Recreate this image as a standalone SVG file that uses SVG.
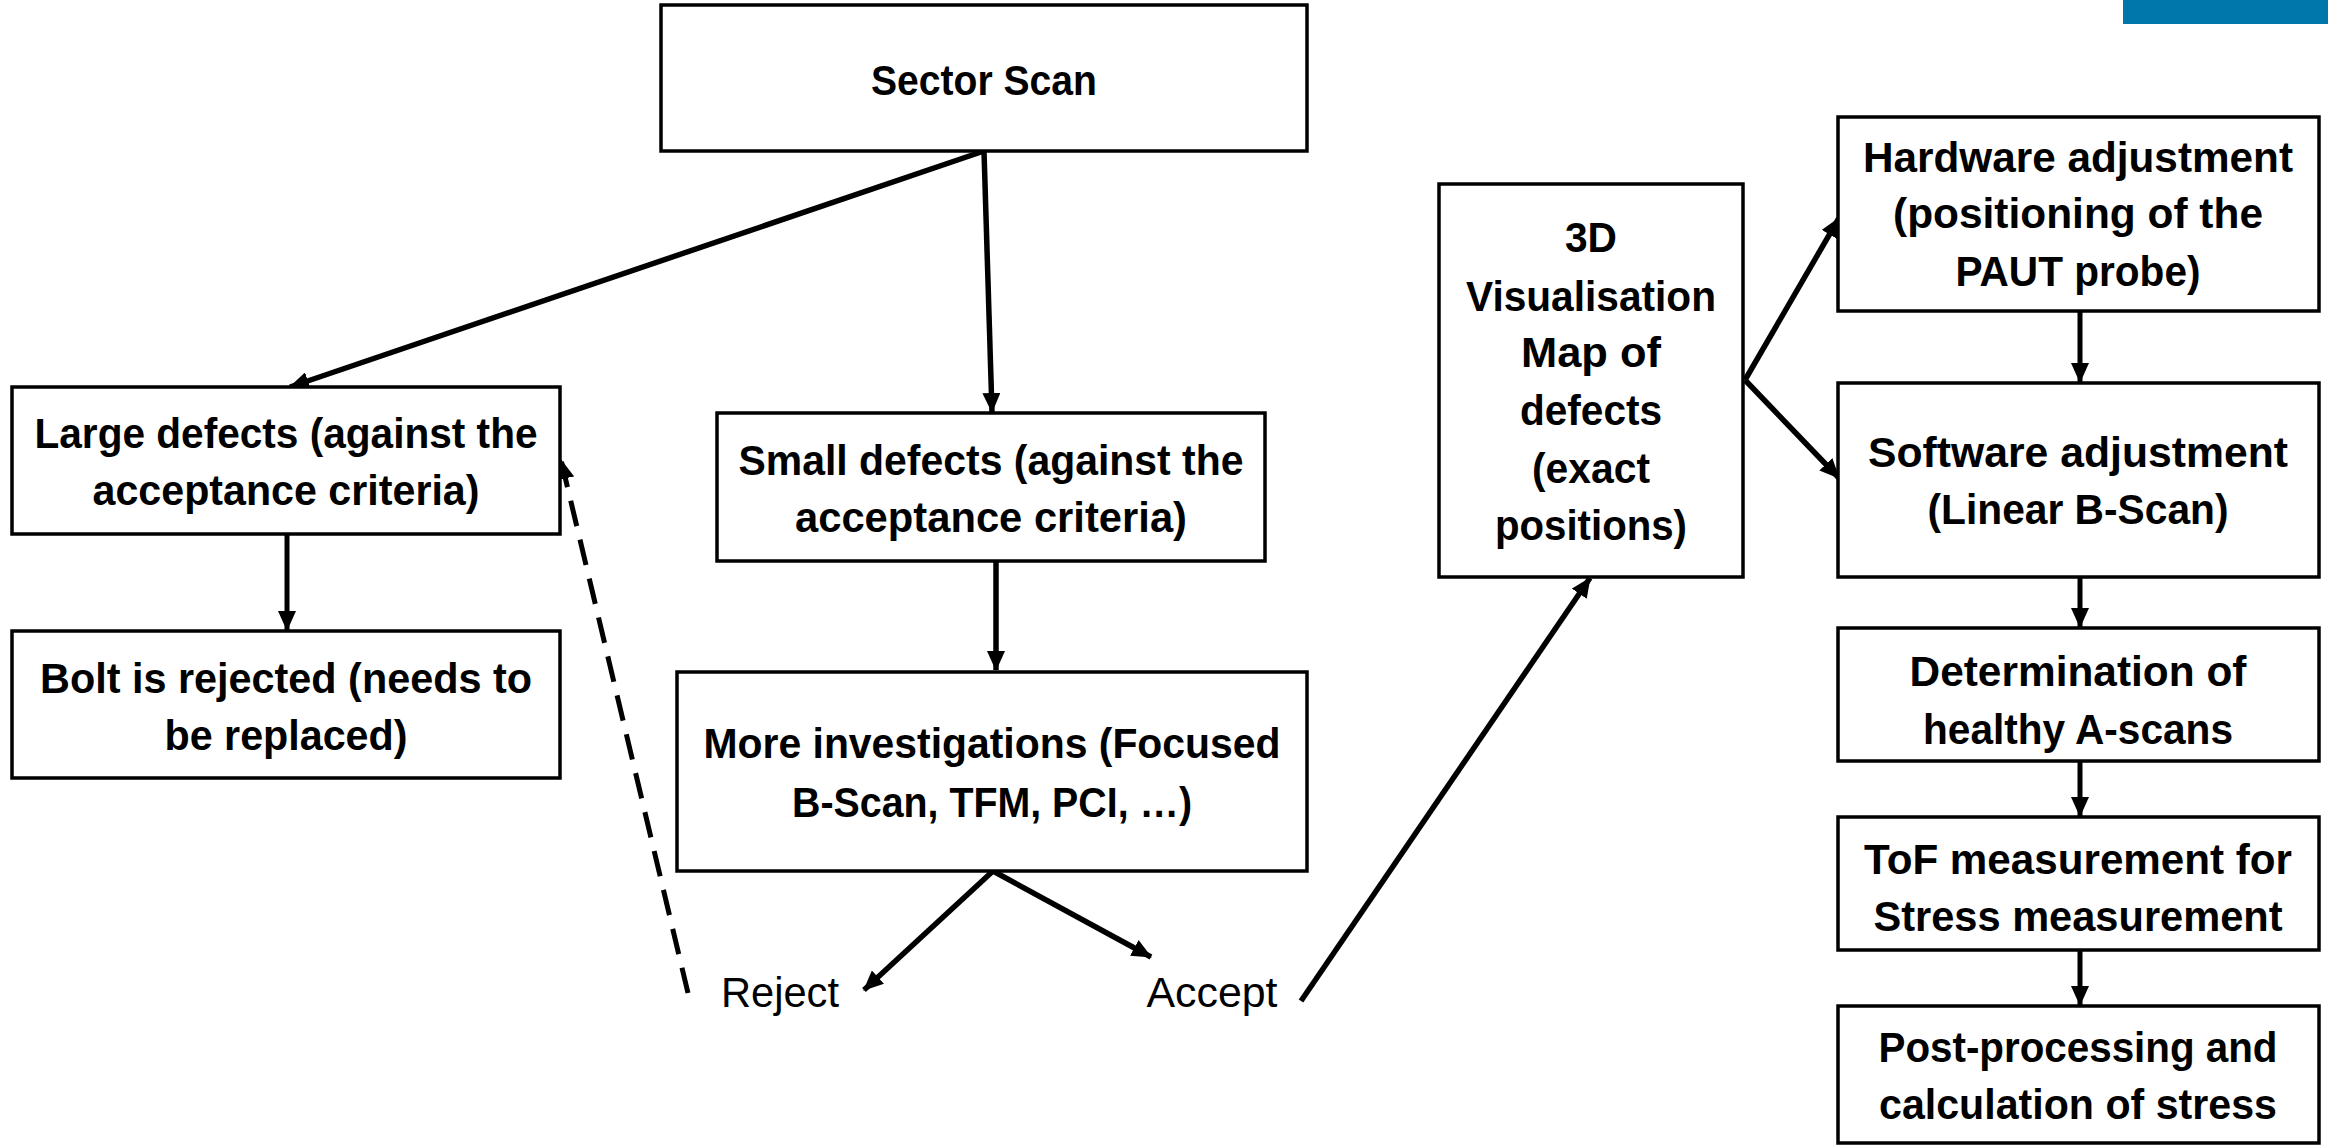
<svg xmlns="http://www.w3.org/2000/svg" width="2328" height="1145" viewBox="0 0 2328 1145">
<style>
.box{fill:#fff;stroke:#000;stroke-width:3.5}
.t{font-family:"Liberation Sans",Arial,sans-serif;font-weight:bold;font-size:42px;fill:#000;text-anchor:middle}
.r{font-family:"Liberation Sans",Arial,sans-serif;font-size:42px;fill:#000;text-anchor:middle}
.c{stroke:#000;stroke-width:5.5;fill:none;marker-end:url(#ah)}
.d{stroke:#000;stroke-width:5;fill:none;stroke-dasharray:26 14;marker-end:url(#ah)}
.c2{stroke:#000;stroke-width:5;fill:none;marker-end:url(#ah)}
</style>
<defs>
<marker id="ah" markerUnits="userSpaceOnUse" markerWidth="22" markerHeight="18" refX="19" refY="9" orient="auto" viewBox="0 0 22 18">
<path d="M0,0 L20,9 L0,18 z" fill="#000"/>
</marker>
</defs>
<rect x="0" y="0" width="2328" height="1145" fill="#fff"/>
<rect x="2123" y="0" width="205" height="24" fill="#0077aa"/>

<g id="connectors">
<line class="c" x1="984" y1="151" x2="290" y2="387"/>
<line class="c" x1="984" y1="151" x2="992" y2="412"/>
<line class="c2" x1="287" y1="534" x2="287" y2="630"/>
<line class="c" x1="996" y1="562" x2="996" y2="670"/>
<line class="c" x1="993" y1="871" x2="864" y2="990"/>
<line class="c" x1="993" y1="871" x2="1151" y2="957"/>
<line class="d" x1="688" y1="993" x2="561" y2="460"/>
<line class="c" x1="1301" y1="1001" x2="1590" y2="578"/>
<line class="c" x1="1745" y1="380" x2="1839" y2="218"/>
<line class="c" x1="1745" y1="380" x2="1839" y2="478"/>
<line class="c2" x1="2080" y1="311" x2="2080" y2="382"/>
<line class="c2" x1="2080" y1="577" x2="2080" y2="627"/>
<line class="c2" x1="2080" y1="762" x2="2080" y2="816"/>
<line class="c2" x1="2080" y1="951" x2="2080" y2="1005"/>
</g>

<g id="sector-scan">
<rect class="box" x="661" y="5" width="646" height="146"/>
<text class="t" x="984" y="95" textLength="226" lengthAdjust="spacingAndGlyphs">Sector Scan</text>
</g>

<g id="large-defects">
<rect class="box" x="12" y="387" width="548" height="147"/>
<text class="t" x="286" y="448" textLength="503" lengthAdjust="spacingAndGlyphs">Large defects (against the</text>
<text class="t" x="286" y="505" textLength="387" lengthAdjust="spacingAndGlyphs">acceptance criteria)</text>
</g>

<g id="bolt-rejected">
<rect class="box" x="12" y="631" width="548" height="147"/>
<text class="t" x="286" y="693" textLength="492" lengthAdjust="spacingAndGlyphs">Bolt is rejected (needs to</text>
<text class="t" x="286" y="750" textLength="243" lengthAdjust="spacingAndGlyphs">be replaced)</text>
</g>

<g id="small-defects">
<rect class="box" x="717" y="413" width="548" height="148"/>
<text class="t" x="991" y="475" textLength="505" lengthAdjust="spacingAndGlyphs">Small defects (against the</text>
<text class="t" x="991" y="532" textLength="392" lengthAdjust="spacingAndGlyphs">acceptance criteria)</text>
</g>

<g id="more-investigations">
<rect class="box" x="677" y="672" width="630" height="199"/>
<text class="t" x="992" y="758" textLength="577" lengthAdjust="spacingAndGlyphs">More investigations (Focused</text>
<text class="t" x="992" y="817" textLength="400" lengthAdjust="spacingAndGlyphs">B-Scan, TFM, PCI, …)</text>
</g>

<g id="reject">
<text class="r" x="780" y="1007" textLength="118" lengthAdjust="spacingAndGlyphs">Reject</text>
</g>
<g id="accept">
<text class="r" x="1212" y="1007" textLength="131" lengthAdjust="spacingAndGlyphs">Accept</text>
</g>

<g id="visualisation-3d">
<rect class="box" x="1439" y="184" width="304" height="393"/>
<text class="t" x="1591" y="252" textLength="52" lengthAdjust="spacingAndGlyphs">3D</text>
<text class="t" x="1591" y="311" textLength="250" lengthAdjust="spacingAndGlyphs">Visualisation</text>
<text class="t" x="1591" y="367" textLength="140" lengthAdjust="spacingAndGlyphs">Map of</text>
<text class="t" x="1591" y="425" textLength="142" lengthAdjust="spacingAndGlyphs">defects</text>
<text class="t" x="1591" y="483" textLength="118" lengthAdjust="spacingAndGlyphs">(exact</text>
<text class="t" x="1591" y="540" textLength="192" lengthAdjust="spacingAndGlyphs">positions)</text>
</g>

<g id="hardware-adjustment">
<rect class="box" x="1838" y="117" width="481" height="194"/>
<text class="t" x="2078" y="172" textLength="430" lengthAdjust="spacingAndGlyphs">Hardware adjustment</text>
<text class="t" x="2078" y="228" textLength="370" lengthAdjust="spacingAndGlyphs">(positioning of the</text>
<text class="t" x="2078" y="286" textLength="245" lengthAdjust="spacingAndGlyphs">PAUT probe)</text>
</g>

<g id="software-adjustment">
<rect class="box" x="1838" y="383" width="481" height="194"/>
<text class="t" x="2078" y="467" textLength="420" lengthAdjust="spacingAndGlyphs">Software adjustment</text>
<text class="t" x="2078" y="524" textLength="301" lengthAdjust="spacingAndGlyphs">(Linear B-Scan)</text>
</g>

<g id="determination">
<rect class="box" x="1838" y="628" width="481" height="133"/>
<text class="t" x="2078" y="686" textLength="337" lengthAdjust="spacingAndGlyphs">Determination of</text>
<text class="t" x="2078" y="744" textLength="310" lengthAdjust="spacingAndGlyphs">healthy A-scans</text>
</g>

<g id="tof-measurement">
<rect class="box" x="1838" y="817" width="481" height="133"/>
<text class="t" x="2078" y="874" textLength="428" lengthAdjust="spacingAndGlyphs">ToF measurement for</text>
<text class="t" x="2078" y="931" textLength="409" lengthAdjust="spacingAndGlyphs">Stress measurement</text>
</g>

<g id="post-processing">
<rect class="box" x="1838" y="1006" width="481" height="137"/>
<text class="t" x="2078" y="1062" textLength="399" lengthAdjust="spacingAndGlyphs">Post-processing and</text>
<text class="t" x="2078" y="1119" textLength="398" lengthAdjust="spacingAndGlyphs">calculation of stress</text>
</g>
</svg>
